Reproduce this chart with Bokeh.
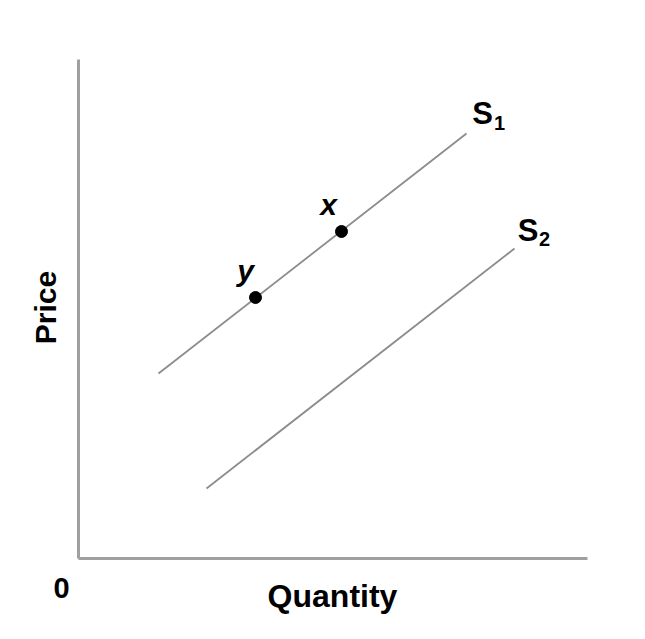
import math
from bokeh.plotting import figure
from bokeh.models import Range1d
from bokeh.core.properties import value
from bokeh.embed import file_html
from bokeh.resources import INLINE

# Data (abstract quantity / price units)
s1_q = [1.6, 7.76]
s1_p = [3.7, 8.5]
s2_q = [2.56, 8.72]
s2_p = [1.4, 6.2]
pts_q = [3.54, 5.26]
pts_p = [5.22, 6.54]
axis_q_max = 10.18
axis_p_max = 9.98

W, H = 629, 623
p = figure(width=W, height=H, output_backend="svg", toolbar_location=None,
           x_range=Range1d(-1.56, 11.02), y_range=Range1d(-1.30, 11.16),
           min_border=0, outline_line_color=None)
p.axis.visible = False
p.grid.visible = False
p.background_fill_color = "white"
p.border_fill_color = "white"

FONT = value("Liberation Sans")
AX = "#a0a0a0"
LN = "#8c8c8c"

# axes
p.line([0, 0], [0, axis_p_max], line_color=AX, line_width=3)
p.line([0, axis_q_max], [0, 0], line_color=AX, line_width=3)

# supply curves
p.line(s1_q, s1_p, line_color=LN, line_width=1.8)
p.line(s2_q, s2_p, line_color=LN, line_width=1.8)

# points
p.scatter(pts_q, pts_p, size=12, color="black")

# point labels
p.text([pts_q[1] - 0.26, pts_q[0] - 0.2], [pts_p[1] + 0.54, pts_p[0] + 0.54], text=["x", "y"],
       text_font=FONT, text_font_style="bold italic", text_font_size="30px",
       text_align="center", text_baseline="alphabetic", text_color="black")

# curve labels
p.text([8.08, 8.99], [8.9, 6.56], text=["S", "S"], text_font=FONT,
       text_font_style="bold", text_font_size="31px", text_align="center",
       text_baseline="alphabetic", text_color="black")
p.text([8.42, 9.32], [8.72, 6.4], text=["1", "2"], text_font=FONT,
       text_font_style="bold", text_font_size="20px", text_align="center",
       text_baseline="alphabetic", text_color="black")

# axis labels
p.text([-0.34], [-0.58], text=["0"], text_font=FONT, text_font_style="bold",
       text_font_size="29px", text_align="center", text_baseline="alphabetic",
       text_color="black")
p.text([5.08], [-0.74], text=["Quantity"], text_font=FONT, text_font_style="bold",
       text_font_size="32px", text_align="center", text_baseline="alphabetic",
       text_color="black")
p.text([-0.66], [5.02], text=["Price"], angle=math.pi / 2, text_font=FONT,
       text_font_style="bold", text_font_size="30px", text_align="center",
       text_baseline="alphabetic", text_color="black")

open("out.html", "w").write(file_html(p, INLINE))
